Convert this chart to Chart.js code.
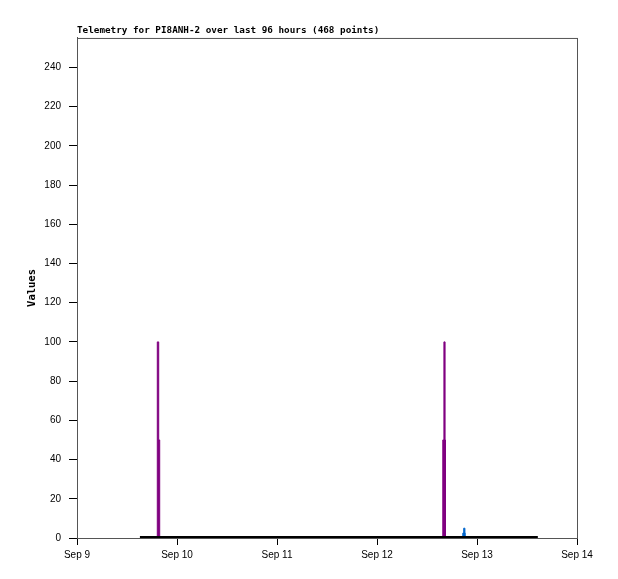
<!DOCTYPE html>
<html>
<head>
<meta charset="utf-8">
<script src="https://cdn.jsdelivr.net/npm/chart.js@4"></script>
<style>
  html, body { margin: 0; padding: 0; background: #fff; }
  #wrap { width: 618px; height: 579px; }
</style>
</head>
<body>
<div id="wrap"><canvas id="myChart" width="618" height="579"></canvas></div>
<script>
// hours since Sep 9 00:00
const DAYS = ['Sep 9', 'Sep 10', 'Sep 11', 'Sep 12', 'Sep 13', 'Sep 14'];

const baseHours = [15.1, 110.6];
const baseValues = [0, 0];

const purpleHours = [19.0, 19.27, 19.61, 19.85, 87.79, 88.06, 88.34, 88.44];
const purpleValues = [0, 100, 50, 0, 50, 100, 50, 0];

const blueHours = [92.4, 92.59, 92.81, 93.1, 93.19];
const blueValues = [0, 2.5, 5, 2.5, 0];

const toPoints = (xs, ys) => xs.map((x, i) => ({ x: x, y: ys[i] }));

const boxPlugin = {
  id: 'box',
  afterDraw(chart) {
    const a = chart.chartArea;
    const c = chart.ctx;
    c.save();
    c.strokeStyle = '#555';
    c.lineWidth = 1;
    c.strokeRect(a.left + 0.5, a.top + 0.5, a.right - a.left, a.bottom - a.top);
    c.restore();
  },
};

const ctx = document.getElementById('myChart').getContext('2d');
const myChart = new Chart(ctx, {
  type: 'line',
  data: {
    datasets: [
      {
        data: toPoints(baseHours, baseValues),
        borderColor: '#000',
        borderWidth: 4,
        pointRadius: 0,
        clip: 0,
      },
      {
        data: toPoints(purpleHours, purpleValues),
        borderColor: '#800080',
        backgroundColor: '#800080',
        fill: 'origin',
        stepped: 'before',
        borderWidth: 1,
        pointRadius: 0,
        clip: 0,
      },
      {
        data: toPoints(blueHours, blueValues),
        borderColor: '#0066cc',
        backgroundColor: '#0066cc',
        fill: 'origin',
        stepped: 'before',
        borderWidth: 1,
        pointRadius: 0,
        clip: 0,
      },
    ],
  },
  plugins: [boxPlugin],
  options: {
    responsive: false,
    animation: false,
    layout: { padding: { left: 0, right: 41, top: 0, bottom: 0 } },
    plugins: {
      legend: { display: false },
      tooltip: { enabled: false },
      title: {
        display: true,
        text: 'Telemetry for PI8ANH-2 over last 96 hours (468 points)',
        align: 'start',
        fullSize: false,
        color: '#000',
        font: { family: 'DejaVu Sans Mono', size: 9.3, weight: 'bold', lineHeight: 1.2 },
        padding: { top: 25, bottom: 1.8 },
      },
    },
    scales: {
      x: {
        type: 'linear',
        min: 0,
        max: 120,
        afterBuildTicks: (axis) => {
          axis.ticks = [0, 24, 48, 72, 96, 120].map((v) => ({ value: v }));
        },
        afterFit: (scale) => { scale.height = 41; },
        ticks: {
          color: '#000',
          padding: 4,
          maxRotation: 0,
          font: { family: 'Liberation Sans', size: 10 },
          callback: (v) => DAYS[Math.round(v / 24)],
        },
        grid: { drawOnChartArea: false, drawTicks: true, tickLength: 7, color: '#000' },
        border: { display: true, color: '#000' },
      },
      y: {
        min: 0,
        max: 255,
        afterBuildTicks: (axis) => {
          const t = [];
          for (let v = 0; v <= 240; v += 20) t.push({ value: v });
          axis.ticks = t;
        },
        afterFit: (scale) => { scale.width = 77; },
        ticks: {
          color: '#000',
          padding: 8,
          font: { family: 'Liberation Sans', size: 10 },
        },
        grid: { drawOnChartArea: false, drawTicks: true, tickLength: 8, color: '#000' },
        border: { display: true, color: '#555' },
        title: {
          display: true,
          text: 'Values',
          color: '#000',
          font: { family: 'DejaVu Sans Mono', size: 10.5, weight: 'bold', lineHeight: 1.2 },
          padding: { top: 25.5, bottom: 0 },
        },
      },
    },
  },
});
</script>
</body>
</html>
